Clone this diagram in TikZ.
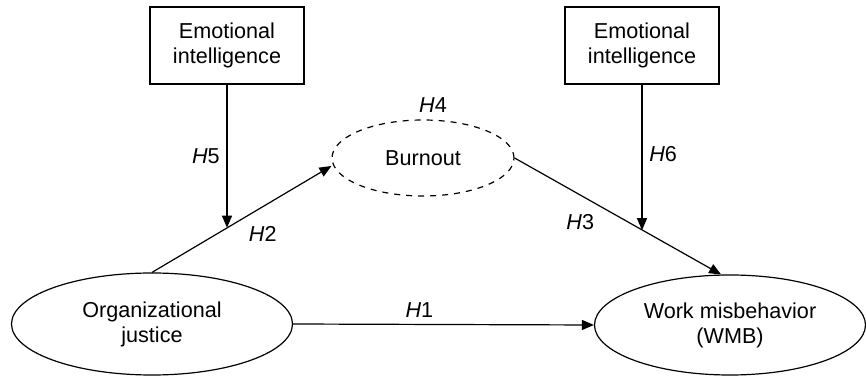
\documentclass[tikz,border=0pt]{standalone}
\usepackage{fontspec}
\setmainfont{Liberation Sans}
\usetikzlibrary{arrows.meta, shapes.geometric}
\begin{document}
\begin{tikzpicture}[x=0.5pt, y=-0.5pt,
  font=\fontsize{10.8}{12.5}\selectfont]
\useasboundingbox (0,0) rectangle (866,378);
\begin{scope}[every node/.style = {draw, align=center, inner sep=0pt, line width=0.6pt}]
\node[rectangle, minimum width=77pt, minimum height=38.5pt] (ei1) at (227, 45.5) {Emotional\\intelligence};
\node[rectangle, minimum width=77pt, minimum height=38.5pt] (ei2) at (642, 45.5) {Emotional\\intelligence};
\node[ellipse, dashed, minimum width=91pt, minimum height=38pt] (burnout) at (423, 158) {Burnout};
\node[ellipse, minimum width=140.5pt, minimum height=51pt] (oj) at (152, 324) {Organizational\\justice};
\node[ellipse, minimum width=135.5pt, minimum height=50pt] (wmb) at (730, 325) {Work misbehavior\\(WMB)};
\end{scope}
\node at (433, 105) {\textit{H}4};
\begin{scope}[every edge/.style = {draw, line width=0.6pt, -{Triangle[length=6pt, width=5pt]}}]
\path (oj.north) edge node[pos=0.5, below right] {\textit{H}2} coordinate[pos=0.42] (h5end) ([yshift=-4pt]burnout.west);
\path (burnout.east) edge node[pos=0.42, below left] {\textit{H}3} coordinate[pos=0.62] (h6end) (wmb.100);
\path (oj.east) edge node[pos=0.42, above] {\textit{H}1} (wmb.west);
\path (ei1.south) edge node[pos=0.5, left] {\textit{H}5} (ei1.south |- h5end);
\path (ei2.south) edge node[pos=0.48, right] {\textit{H}6} (ei2.south |- h6end);
\end{scope}
\end{tikzpicture}
\end{document}
